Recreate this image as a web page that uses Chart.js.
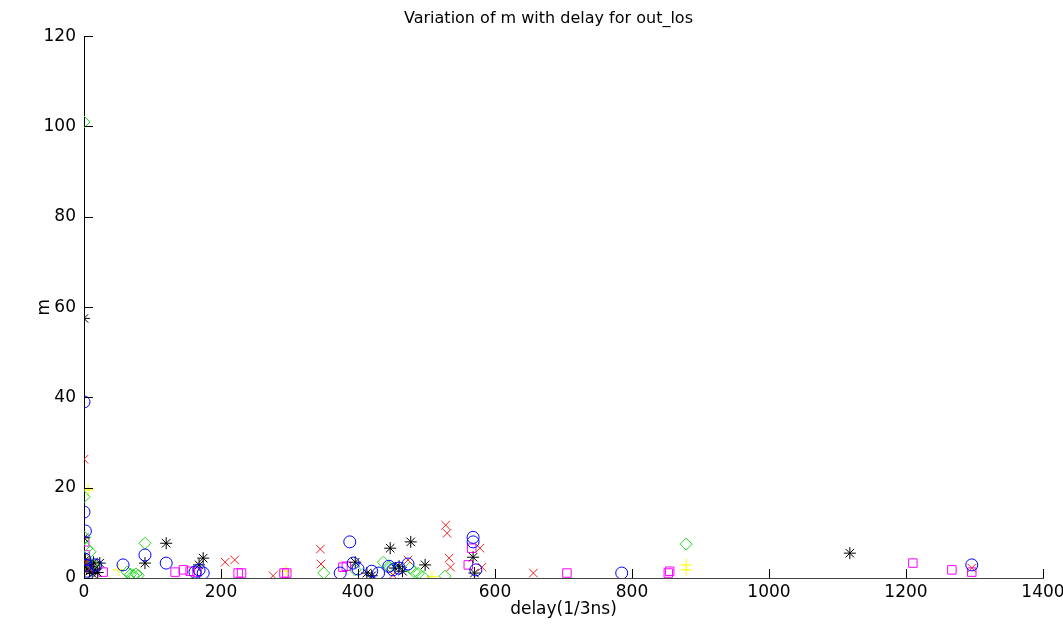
<!DOCTYPE html>
<html>
<head>
<meta charset="utf-8">
<title>Variation of m with delay for out_los</title>
<script src="https://cdn.jsdelivr.net/npm/chart.js@4.4.1/dist/chart.umd.min.js"></script>
<style>
  html, body { margin: 0; padding: 0; background: #fff; }
  #wrap { width: 1063px; height: 624px; position: relative; }
</style>
</head>
<body>
<div id="wrap"><canvas id="chart"></canvas></div>
<script>
// Axis ticks
const xTicks = [0, 200, 400, 600, 800, 1000, 1200, 1400];
const yTicks = [0, 20, 40, 60, 80, 100, 120];

// Blue circles
const blueX = [0, 0, 2, 1, 3, 5, 17, 57, 89, 120, 162, 168, 174, 374, 388, 393, 400, 420, 430, 445, 451, 460, 473, 568, 568, 572, 785, 1296];
const blueY = [39, 14.6, 10.4, 4.2, 2.8, 1.5, 2.9, 2.9, 5.1, 3.3, 1.3, 1.8, 1.1, 1.1, 8.0, 3.3, 2.0, 1.5, 1.1, 2.6, 1.8, 2.2, 3.1, 9.0, 8.0, 1.8, 1.1, 2.9];

// Red crosses
const redX = [0, 3, 8, 206, 220, 276, 345, 346, 451, 473, 528, 530, 533, 535, 578, 581, 656, 1296];
const redY = [26.3, 3.5, 2.0, 3.5, 4.0, 0.5, 6.4, 3.1, 0.7, 4.0, 11.7, 9.9, 4.4, 2.4, 6.6, 2.4, 1.1, 2.2];

// Green diamonds
const greenX = [0, 0, 1, 4, 9, 12, 63, 68, 72, 76, 79, 89, 350, 396, 437, 445, 451, 476, 482, 488, 495, 527, 879];
const greenY = [101, 18, 9, 6.6, 5.8, 3, 1.3, 0.8, 0.6, 0.9, 0.6, 7.7, 1.1, 1.8, 3.5, 2.5, 2.0, 2.2, 1.4, 1.0, 0.3, 0.4, 7.5];

// Black stars
const blackX = [0, 0, 2, 4, 6, 8, 10, 12, 14, 16, 20, 23, 89, 120, 168, 174, 396, 413, 420, 447, 454, 460, 465, 477, 498, 568, 570, 1118];
const blackY = [57.5, 8.9, 4, 2, 3, 1.5, 2.5, 1, 3.5, 2, 1.2, 3.3, 3.3, 7.7, 2.9, 4.4, 3.5, 1.1, 0.5, 6.6, 2.2, 2.6, 1.5, 8.0, 2.9, 4.6, 1.1, 5.5];

// Magenta squares
const magentaX = [1, 2, 28, 133, 145, 155, 165, 225, 230, 292, 296, 378, 383, 561, 566, 705, 853, 855, 1210, 1267, 1296];
const magentaY = [8.0, 5.1, 1.3, 1.3, 1.8, 1.5, 1.3, 1.1, 1.1, 1.1, 1.1, 2.4, 2.6, 2.9, 6.6, 1.1, 1.1, 1.5, 3.3, 1.8, 1.3];

// Yellow plus signs
const yellowX = [6, 50, 295, 508, 879, 879];
const yellowY = [19.5, 1.8, 1.5, 0.3, 2.9, 1.8];

const FONT = '"DejaVu Sans", "Liberation Sans", Arial, sans-serif';

function toPoints(xs, ys) {
  return xs.map((x, i) => ({ x: x, y: ys[i] }));
}

function series(label, xs, ys, style, color) {
  return {
    label: label,
    data: toPoints(xs, ys),
    pointStyle: style,
    pointRadius: 6,
    pointBorderWidth: 1,
    borderColor: color,
    backgroundColor: 'rgba(0,0,0,0)',
    pointBackgroundColor: 'rgba(0,0,0,0)',
    showLine: false,
  };
}

// MATLAB-style ticks pointing into the plot area
const innerTicks = {
  id: 'innerTicks',
  afterDatasetsDraw(chart) {
    const { ctx, chartArea, scales } = chart;
    ctx.save();
    ctx.strokeStyle = '#000';
    ctx.lineWidth = 1;
    ctx.beginPath();
    xTicks.forEach((v) => {
      const px = Math.round(scales.x.getPixelForValue(v)) + 0.5;
      ctx.moveTo(px, chartArea.bottom);
      ctx.lineTo(px, chartArea.bottom - 9);
    });
    yTicks.forEach((v) => {
      const py = Math.round(scales.y.getPixelForValue(v)) + 0.5;
      ctx.moveTo(chartArea.left, py);
      ctx.lineTo(chartArea.left + 9, py);
    });
    ctx.stroke();
    ctx.restore();
  },
};

const ctx = document.getElementById('chart').getContext('2d');
new Chart(ctx, {
  type: 'scatter',
  data: {
    datasets: [
      series('o', blueX, blueY, 'circle', '#0000ff'),
      series('x', redX, redY, 'crossRot', '#ee2222'),
      series('d', greenX, greenY, 'rectRot', '#22dd22'),
      series('*', blackX, blackY, 'star', '#000000'),
      series('s', magentaX, magentaY, 'rect', '#ff00ff'),
      series('+', yellowX, yellowY, 'cross', '#ffff00'),
    ],
  },
  options: {
    responsive: true,
    maintainAspectRatio: false,
    animation: false,
    layout: {
      padding: { left: 34, right: 0, top: 0, bottom: 4 },
    },
    plugins: {
      legend: { display: false },
      tooltip: { enabled: false },
      title: {
        display: true,
        text: 'Variation of m with delay for out_los',
        color: '#000',
        font: { family: FONT, size: 16, weight: 'normal' },
        padding: { top: 9, bottom: 8 },
      },
    },
    scales: {
      x: {
        type: 'linear',
        min: 0,
        max: 1400,
        afterBuildTicks: (scale) => {
          scale.ticks = xTicks.map((v) => ({ value: v }));
        },
        afterFit: (scale) => {
          scale.height = 42;
          // leave the last label hanging a little past the axis end
          scale.paddingRight = 20;
          scale.paddingLeft = 0;
        },
        ticks: {
          color: '#000',
          padding: 4,
          maxRotation: 0,
          callback: (v) => String(v),
          font: { family: FONT, size: 17 },
        },
        grid: { drawOnChartArea: false, drawTicks: false },
        border: { display: true, color: '#444', width: 1 },
        title: {
          display: true,
          text: 'delay(1/3ns)',
          color: '#000',
          padding: { top: 0, bottom: 0 },
          font: { family: FONT, size: 17 },
        },
      },
      y: {
        type: 'linear',
        min: 0,
        max: 120,
        afterBuildTicks: (scale) => {
          scale.ticks = yTicks.map((v) => ({ value: v }));
        },
        afterFit: (scale) => {
          scale.width = 50;
        },
        ticks: {
          color: '#000',
          padding: 8,
          callback: (v) => String(v),
          font: { family: FONT, size: 17 },
        },
        grid: { drawOnChartArea: false, drawTicks: false },
        border: { display: true, color: '#000', width: 1 },
        title: {
          display: true,
          text: 'm',
          color: '#000',
          padding: { top: 0, bottom: 0 },
          font: { family: FONT, size: 17 },
        },
      },
    },
  },
  plugins: [innerTicks],
});
</script>
</body>
</html>
